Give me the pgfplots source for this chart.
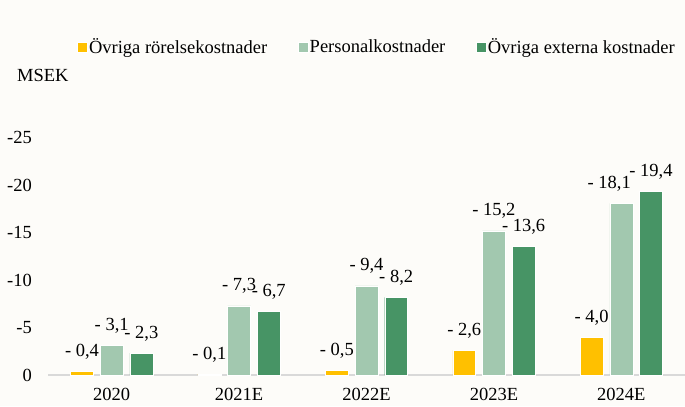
\documentclass[border=0pt]{standalone}
\usepackage{fontspec}
\setmainfont{Liberation Serif}
\usepackage{pgfplots}
\pgfplotsset{compat=1.18}
\definecolor{bgc}{HTML}{FDFCF9}
\definecolor{cyel}{HTML}{FFC000}
\definecolor{clight}{HTML}{A2C8AF}
\definecolor{cdark}{HTML}{479465}
\definecolor{axgray}{HTML}{D9D9D9}
\newcommand{\fs}{\fontsize{18.5bp}{22bp}\selectfont}
\begin{document}
\begin{tikzpicture}[x=1bp,y=1bp]
\path[use as bounding box, fill=bgc] (0,0) rectangle (685,406);
\begin{axis}[
  at={(48bp,31bp)}, anchor=south west,
  scale only axis, width=637bp, height=256bp,
  xmin=-0.5, xmax=4.5, ymin=0, ymax=27,
  clip=false,
  axis lines=left,
  x axis line style={draw=axgray, line width=1.5bp, -},
  y axis line style={draw=none},
  major tick length=0pt,
  xtick={0,1,2,3,4},
  xticklabels={2020,2021E,2022E,2023E,2024E},
  ytick={0,5,10,15,20,25},
  yticklabels={0,-5,-10,-15,-20,-25},
  xticklabel style={anchor=north, inner sep=0pt, yshift=-13bp, font=\fs},
  yticklabel style={anchor=east, inner sep=0pt, xshift=-16bp, font=\fs},
  ybar, bar width=0.18,
  point meta=explicit symbolic,
  nodes near coords,
  nodes near coords style={anchor=base, inner sep=0pt, yshift=15bp, font=\fs},
  legend columns=3,
  legend cell align=left,
  legend image code/.code={\fill[#1] (0bp,-5bp) rectangle (10bp,5bp);},
  legend style={draw=none, fill=none, at={(0.0455,1.32)}, anchor=north west,
    inner sep=0pt, font=\fs,
    nodes={inner sep=1.5bp},
    /tikz/every even column/.append style={column sep=29bp}},
]
\addplot[fill=cyel, draw=white, line width=0.4bp, bar shift=-0.233] coordinates {
  (0,0.4) [{- 0,4}] (1,0.1) [{- 0,1}] (2,0.5) [{- 0,5}] (3,2.6) [{- 2,6}] (4,4.0) [{- 4,0}]};
\addlegendentry{Övriga rörelsekostnader}
\addplot[fill=clight, draw=white, line width=0.4bp, bar shift=0] coordinates {
  (0,3.1) [{- 3,1}] (1,7.3) [{- 7,3}] (2,9.4) [{- 9,4}] (3,15.2) [{- 15,2}] (4,18.1) [{- 18,1\hspace*{24bp}}]};
\addlegendentry{Personalkostnader}
\addplot[fill=cdark, draw=white, line width=0.4bp, bar shift=0.233] coordinates {
  (0,2.3) [{- 2,3}] (1,6.7) [{- 6,7}] (2,8.2) [{- 8,2}] (3,13.6) [{- 13,6}] (4,19.4) [{- 19,4}]};
\addlegendentry{Övriga externa kostnader}
\end{axis}
\node[anchor=base west, inner sep=0pt, font=\fs] at (17,324.3) {MSEK};
\end{tikzpicture}
\end{document}
